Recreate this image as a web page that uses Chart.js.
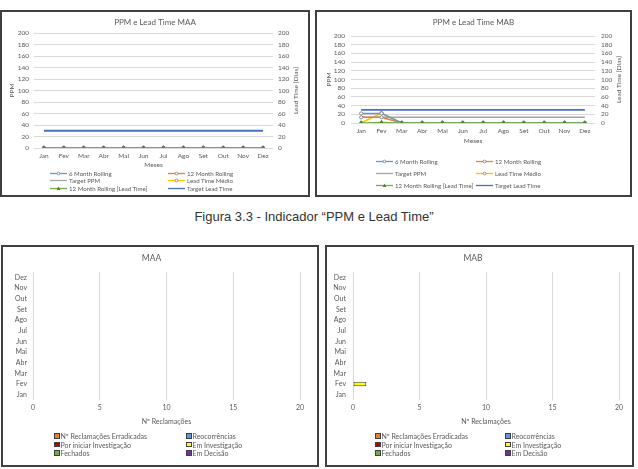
<!DOCTYPE html>
<html><head><meta charset="utf-8">
<script src="https://cdn.jsdelivr.net/npm/chart.js@4/dist/chart.umd.min.js"></script>
<style>
html,body{margin:0;padding:0;background:#fff;}
body{width:638px;height:469px;position:relative;overflow:hidden;font-family:Lato,sans-serif;}
.box{position:absolute;border:2px solid #404040;box-sizing:border-box;background:#fff;}
.box canvas{position:absolute;left:0;top:0;}
.lg{position:absolute;display:grid;color:#595959;font-family:Lato,sans-serif;white-space:nowrap;}
.lg .it{display:flex;align-items:center;overflow:visible;}
.lg svg{flex:none;display:block;}
.sq{display:inline-block;width:3.5px;height:3.5px;border:1px solid #404040;margin-right:1px;flex:none;}
#cap{position:absolute;left:0;width:628px;top:209px;text-align:center;font-family:"Liberation Sans",Arial,sans-serif;font-size:13px;color:#333;}
</style></head>
<body>
<div class="box" style="left:0;top:10px;width:310px;height:187px;"><canvas id="c1" width="306" height="183"></canvas><div class="lg" id="l1"></div></div>
<div class="box" style="left:315px;top:10px;width:317px;height:187px;"><canvas id="c2" width="313" height="183"></canvas><div class="lg" id="l2"></div></div>
<div id="cap">Figura 3.3 - Indicador “PPM e Lead Time”</div>
<div class="box" style="left:1px;top:245px;width:318px;height:222px;"><canvas id="c3" width="314" height="218"></canvas><div class="lg" id="l3"></div></div>
<div class="box" style="left:325px;top:245px;width:309px;height:222px;"><canvas id="c4" width="305" height="218"></canvas><div class="lg" id="l4"></div></div>
<script>
// ---------- data ----------
const months = ['Jan','Fev','Mar','Abr','Mai','Jun','Jul','Ago','Set','Out','Nov','Dez'];
const lineSeriesNames = ['6 Month Rolling','12 Month Rolling','Target PPM','Lead Time Médio','12 Month Rolling [Lead Time]','Target Lead Time'];
const barSeriesNames = ['Nº Reclamações Erradicadas','Reocorrências','Por iniciar Investigação','Em Investigação','Fechados','Em Decisão'];

// PPM e Lead Time MAA
const maa6MonthRolling   = [0,0,0,0,0,0,0,0,0,0,0,0];
const maa12MonthRolling  = [0,0,0,0,0,0,0,0,0,0,0,0];
const maaTargetPPM       = [0,0,0,0,0,0,0,0,0,0,0,0];
const maaLeadTimeMedio   = [0,0,0,0,0,0,0,0,0,0,0,0];
const maa12MonthRollingLT= [0,0,0,0,0,0,0,0,0,0,0,0];
const maaTargetLeadTime  = [30,30,30,30,30,30,30,30,30,30,30,30];

// PPM e Lead Time MAB
const mab6MonthRolling   = [22,22,0,0,0,0,0,0,0,0,0,0];
const mab12MonthRolling  = [13,13,0,0,0,0,0,0,0,0,0,0];
const mabTargetPPM       = [13,13,13,13,13,13,13,13,13,13,13,13];
const mabLeadTimeMedio   = [0,23,0,0,0,0,0,0,0,0,0,0];
const mab12MonthRollingLT= [0,1,0,0,0,0,0,0,0,0,0,0];
const mabTargetLeadTime  = [30,30,30,30,30,30,30,30,30,30,30,30];

// Nº Reclamações MAA
const maaErradicadas   = [0,0,0,0,0,0,0,0,0,0,0,0];
const maaReocorrencias = [0,0,0,0,0,0,0,0,0,0,0,0];
const maaPorIniciar    = [0,0,0,0,0,0,0,0,0,0,0,0];
const maaEmInvestig    = [0,0,0,0,0,0,0,0,0,0,0,0];
const maaFechados      = [0,0,0,0,0,0,0,0,0,0,0,0];
const maaEmDecisao     = [0,0,0,0,0,0,0,0,0,0,0,0];

// Nº Reclamações MAB
const mabErradicadas   = [0,0,0,0,0,0,0,0,0,0,0,0];
const mabReocorrencias = [0,0,0,0,0,0,0,0,0,0,0,0];
const mabPorIniciar    = [0,0,0,0,0,0,0,0,0,0,0,0];
const mabEmInvestig    = [0,1,0,0,0,0,0,0,0,0,0,0];
const mabFechados      = [0,0,0,0,0,0,0,0,0,0,0,0];
const mabEmDecisao     = [0,0,0,0,0,0,0,0,0,0,0,0];

const ppmAxisMax = 200, ppmAxisStep = 20;
const recAxisMax = 20, recAxisStep = 5;

// ---------- styles ----------
const TXT = '#595959', GRID = '#D9D9D9', FF = 'Lato, sans-serif';
const lineColors = ['#5B9BD5','#ED7D31','#A5A5A5','#FFC000','#70AD47','#4472C4'];
const lineMarkers = ['circle','circle',false,'circle','triangle',false];
const lineAxis = ['y','y','y','y1','y1','y1'];
const barColors = ['#ED7D31','#5B9BD5','#C00000','#FFFF00','#70AD47','#7030A0'];

const rightTitle = {
  id:'rightTitle',
  afterDraw(chart){
    const o = chart.options.plugins.rightTitle;
    if(!o || !o.text) return;
    const ctx = chart.ctx, a = chart.chartArea;
    ctx.save();
    ctx.translate(o.x, (a.top+a.bottom)/2);
    ctx.rotate(-Math.PI/2);
    ctx.font = o.size + 'px ' + FF;
    ctx.fillStyle = TXT;
    ctx.textAlign = 'center';
    ctx.textBaseline = 'middle';
    ctx.fillText(o.text, 0, 0);
    ctx.restore();
  }
};

function lineChart(id, title, series, g){
  const datasets = series.map((d,i)=>({
    label: lineSeriesNames[i], data: d, yAxisID: lineAxis[i],
    borderColor: lineColors[i], backgroundColor: lineColors[i],
    borderWidth: i===5 ? 1.8 : 1.5, tension: 0,
    pointStyle: lineMarkers[i] || 'circle',
    pointRadius: lineMarkers[i] ? (i===4 ? 2.3 : 1.6) : 0,
    pointBorderWidth: 0.9,
    pointBackgroundColor: i===4 ? '#548235' : '#fff',
    pointBorderColor: i===4 ? '#548235' : '#7f7f7f',
    order: i===4 ? 0 : (i===5 ? 2 : 1)
  }));
  const tf = {family: FF, size: 6.5};
  return new Chart(document.getElementById(id), {
    type:'line',
    data:{labels: months, datasets},
    plugins:[rightTitle],
    options:{
      responsive:false, animation:false, events:[],
      layout:{padding:{left:0,right:0,top:0,bottom:g.lb}},
      plugins:{
        legend:{display:false}, tooltip:{enabled:false},
        title:{display:true, text:title, color:TXT, font:{family:FF,size:8,weight:'normal'}, padding:{top:g.tp1,bottom:g.tp2}},
        rightTitle:{text:'Lead Time [Dias]', x:g.rtx, size:6.5}
      },
      scales:{
        x:{offset:true, grid:{display:false, drawTicks:false}, border:{display:false},
           ticks:{font:tf, color:TXT, padding:g.xtp, maxRotation:0, autoSkip:false},
           title:{display:true, text:'Meses', color:TXT, font:tf, padding:{top:0,bottom:g.xttp}},
           afterFit:s=>{s.height=g.xH;}},
        y:{min:0, max:ppmAxisMax, grid:{color:GRID, drawTicks:false}, border:{display:false},
           ticks:{stepSize:ppmAxisStep, font:tf, color:TXT, padding:g.ytp, autoSkip:false},
           title:{display:true, text:'PPM', color:TXT, font:tf, padding:{top:g.yttp,bottom:0}},
           afterFit:s=>{s.width=g.lw;}},
        y1:{position:'right', min:0, max:ppmAxisMax, grid:{display:false, drawTicks:false}, border:{display:false},
           ticks:{stepSize:ppmAxisStep, font:tf, color:TXT, padding:g.ytp, autoSkip:false},
           afterFit:s=>{s.width=g.rw;}}
      }
    }
  });
}

function barChart(id, title, series, g){
  const datasets = series.map((d,i)=>({
    label: barSeriesNames[i], data: d, backgroundColor: barColors[i],
    borderColor:'#404040', borderWidth: c => (c.raw ? 1 : 0), borderSkipped:false
  }));
  const tf = {family: FF, size: 7};
  return new Chart(document.getElementById(id), {
    type:'bar',
    data:{labels: months, datasets},
    options:{
      indexAxis:'y', responsive:false, animation:false, events:[],
      datasets:{bar:{barPercentage:0.4, categoryPercentage:1}},
      layout:{padding:{left:0,right:g.pr,top:0,bottom:g.lb}},
      plugins:{
        legend:{display:false}, tooltip:{enabled:false},
        title:{display:true, text:title, color:TXT, font:{family:FF,size:8.5,weight:'normal'}, padding:{top:g.tp1,bottom:g.tp2}}
      },
      scales:{
        x:{stacked:true, min:0, max:recAxisMax, grid:{color:GRID, drawTicks:false}, border:{display:false},
           ticks:{stepSize:recAxisStep, font:tf, color:TXT, padding:g.xtp},
           title:{display:true, text:'Nº Reclamações', color:TXT, font:tf, padding:{top:0,bottom:g.xttp}},
           afterFit:s=>{s.height=g.xH;}},
        y:{stacked:true, reverse:true, grid:{display:false, drawTicks:false}, border:{display:false},
           ticks:{font:tf, color:TXT, padding:g.ytp, autoSkip:false},
           afterFit:s=>{s.width=g.lw;}}
      }
    }
  });
}

function lineLegend(id, left, top, colW, rowH, fs){
  const el = document.getElementById(id);
  el.style.left = left+'px'; el.style.top = top+'px';
  el.style.gridTemplateColumns = colW+'px auto';
  el.style.gridAutoRows = rowH+'px';
  el.style.fontSize = fs+'px';
  lineSeriesNames.forEach((n,i)=>{
    const it = document.createElement('div'); it.className='it';
    let mk = '';
    if(lineMarkers[i]==='circle') mk = '<circle cx="8.5" cy="3.5" r="1.4" fill="#fff" stroke="#7f7f7f" stroke-width="0.8"/>';
    if(lineMarkers[i]==='triangle') mk = '<polygon points="8.5,1.6 10.4,4.9 6.6,4.9" fill="#548235"/>';
    it.innerHTML = '<svg width="17" height="7" style="margin-right:2px"><line x1="0" y1="3.5" x2="17" y2="3.5" stroke="'+lineColors[i]+'" stroke-width="1.3"/>'+mk+'</svg><span>'+n+'</span>';
    el.appendChild(it);
  });
}
function barLegend(id, left, top, colW, rowH, fs){
  const el = document.getElementById(id);
  el.style.left = left+'px'; el.style.top = top+'px';
  el.style.gridTemplateColumns = colW+'px auto';
  el.style.gridAutoRows = rowH+'px';
  el.style.fontSize = fs+'px';
  barSeriesNames.forEach((n,i)=>{
    const it = document.createElement('div'); it.className='it';
    it.innerHTML = '<span class="sq" style="background:'+barColors[i]+'"></span><span>'+n+'</span>';
    el.appendChild(it);
  });
}

lineChart('c1','PPM e Lead Time MAA',
  [maa6MonthRolling,maa12MonthRolling,maaTargetPPM,maaLeadTimeMedio,maa12MonthRollingLT,maaTargetLeadTime],
  {lb:25, tp1:5.2, tp2:6.2, xtp:4.1, xttp:1.1, xH:22, ytp:5, yttp:6.1, lw:32, rw:35, rtx:294});
lineChart('c2','PPM e Lead Time MAB',
  [mab6MonthRolling,mab12MonthRolling,mabTargetPPM,mabLeadTimeMedio,mab12MonthRollingLT,mabTargetLeadTime],
  {lb:50, tp1:5.2, tp2:9.2, xtp:4.1, xttp:0.1, xH:22, ytp:6, yttp:8.1, lw:34, rw:35, rtx:302});
barChart('c3','MAA',
  [maaErradicadas,maaReocorrencias,maaPorIniciar,maaEmInvestig,maaFechados,maaEmDecisao],
  {lb:37, pr:17, tp1:5.9, tp2:8.9, xtp:3.8, xttp:1.8, xH:28, ytp:6, lw:30});
barChart('c4','MAB',
  [mabErradicadas,mabReocorrencias,mabPorIniciar,mabEmInvestig,mabFechados,mabEmDecisao],
  {lb:37, pr:13, tp1:5.9, tp2:8.9, xtp:3.8, xttp:1.8, xH:28, ytp:7, lw:26});

lineLegend('l1', 48, 157.25, 118, 7.5, 6.1);
lineLegend('l2', 59, 143, 100, 12, 6.1);
barLegend('l3', 51, 184.75, 132, 8.5, 7);
barLegend('l4', 48, 184.75, 130, 8.5, 7);
</script>
</body></html>
